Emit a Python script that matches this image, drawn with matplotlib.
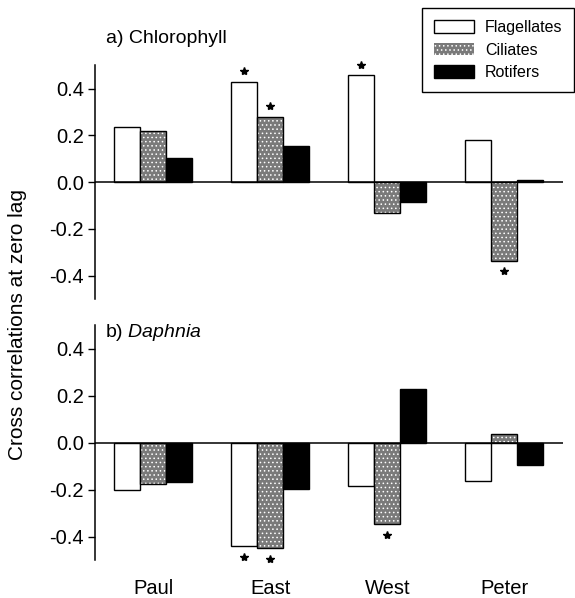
import numpy as np
import matplotlib
matplotlib.use('Agg')
import matplotlib.pyplot as plt
from matplotlib.patches import Patch

plt.rcParams['font.family'] = ['Liberation Sans', 'DejaVu Sans']
plt.rcParams['mathtext.fontset'] = 'custom'
plt.rcParams['mathtext.it'] = 'Liberation Sans:italic'
plt.rcParams['mathtext.rm'] = 'Liberation Sans'
plt.rcParams['hatch.linewidth'] = 0.6

# lakes and zooplankton groups
lakes = ['Paul', 'East', 'West', 'Peter']
groups = ['Flagellates', 'Ciliates', 'Rotifers']

# cross correlations at zero lag with chlorophyll
chl_flag = [0.236, 0.429, 0.457, 0.180]
chl_cil = [0.219, 0.279, -0.134, -0.336]
chl_rot = [0.101, 0.155, -0.084, 0.010]
# significance flags (flagellates, ciliates, rotifers)
chl_sig_flag = [False, True, True, False]
chl_sig_cil = [False, True, False, True]
chl_sig_rot = [False, False, False, False]

# cross correlations at zero lag with Daphnia
daph_flag = [-0.204, -0.440, -0.187, -0.162]
daph_cil = [-0.176, -0.449, -0.347, 0.036]
daph_rot = [-0.169, -0.198, 0.228, -0.095]
daph_sig_flag = [False, True, False, False]
daph_sig_cil = [False, True, True, False]
daph_sig_rot = [False, False, False, False]

x = np.arange(len(lakes))
w = 0.222
grey = '#7a7a7a'
stipple = '....'


def draw_panel(ax, flag, cil, rot, sigs):
    ax.bar(x - w, flag, w, color='white', edgecolor='black', lw=1.0, zorder=2)
    # ciliates: grey with white stipple, then black outline on top
    ax.bar(x, cil, w, color=grey, edgecolor='white', hatch=stipple, lw=0, zorder=2)
    ax.bar(x, cil, w, color='none', edgecolor='black', lw=1.0, zorder=3)
    ax.bar(x + w, rot, w, color='black', edgecolor='black', lw=1.0, zorder=2)

    for off, vals, sig in zip([-w, 0, w], [flag, cil, rot], sigs):
        for xi, v, s in zip(x, vals, sig):
            if s:
                y = v + 0.045 if v > 0 else v - 0.045
                ax.plot(xi + off, y, marker='*', color='black', ms=6, zorder=4,
                        clip_on=False)

    ax.axhline(0, color='black', lw=1.1, zorder=5)
    ax.set_xlim(-0.5, 3.5)
    ax.set_ylim(-0.5, 0.5)
    ax.set_yticks([-0.4, -0.2, 0.0, 0.2, 0.4])
    ax.set_yticklabels(['-0.4', '-0.2', '0.0', '0.2', '0.4'])
    for s in ['top', 'right', 'bottom']:
        ax.spines[s].set_visible(False)
    ax.spines['left'].set_linewidth(1.1)
    ax.tick_params(axis='y', labelsize=14.5, length=5, width=1, pad=3)
    ax.tick_params(axis='x', length=0)


fig = plt.figure(figsize=(5.75, 5.98), dpi=100)
ax1 = fig.add_axes([0.165, 0.5, 0.814, 0.391])
ax2 = fig.add_axes([0.165, 0.0635, 0.814, 0.393])

draw_panel(ax1, chl_flag, chl_cil, chl_rot, [chl_sig_flag, chl_sig_cil, chl_sig_rot])
draw_panel(ax2, daph_flag, daph_cil, daph_rot, [daph_sig_flag, daph_sig_cil, daph_sig_rot])

ax1.set_xticks([])
ax2.set_xticks(x)
ax2.set_xticklabels(lakes, fontsize=14.5)
ax2.tick_params(axis='x', pad=14)

ax1.text(0.024, 1.115, 'a) Chlorophyll', transform=ax1.transAxes, fontsize=14,
         va='center', ha='left')
ax2.text(0.022, 0.97, r'b) $\it{Daphnia}$', transform=ax2.transAxes, fontsize=14,
         va='center', ha='left')

fig.text(0.031, 0.457, 'Cross correlations at zero lag', rotation=90,
         fontsize=15, va='center', ha='center')

handles = [
    Patch(facecolor='white', edgecolor='black', lw=1.0),
    Patch(facecolor=grey, edgecolor='white', hatch=stipple, lw=0),
    Patch(facecolor='black', edgecolor='black'),
]
leg = fig.legend(handles, groups, loc='upper right', bbox_to_anchor=(0.999, 0.986),
                 fontsize=11.5, frameon=True, fancybox=False, edgecolor='black',
                 framealpha=1, handlelength=2.5, handleheight=0.85,
                 handletextpad=0.7, labelspacing=0.45, borderpad=0.75,
                 borderaxespad=0)
leg.get_frame().set_linewidth(1.0)

fig.savefig('out.png', dpi=100)
